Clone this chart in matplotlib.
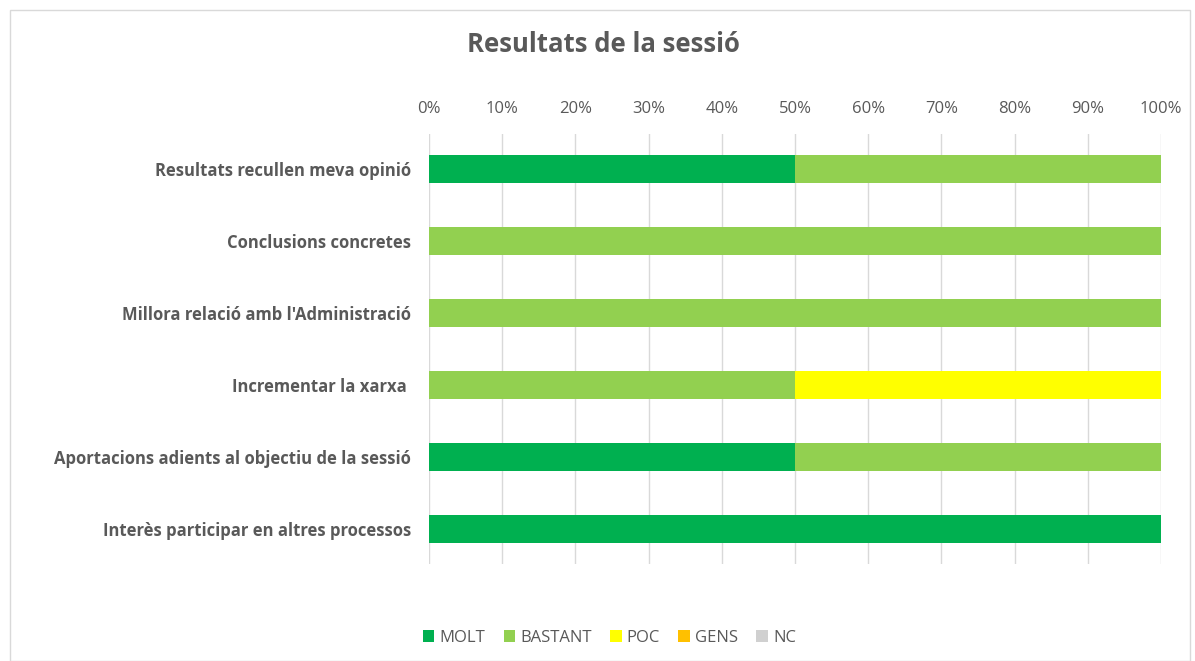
import matplotlib.pyplot as plt
from matplotlib.patches import Rectangle
from matplotlib.ticker import PercentFormatter

categories = [
    "Resultats recullen meva opinió",
    "Conclusions concretes",
    "Millora relació amb l'Administració",
    "Incrementar la xarxa ",
    "Aportacions adients al objectiu de la sessió",
    "Interès participar en altres processos",
]
series_names = ["MOLT", "BASTANT", "POC", "GENS", "NC"]
molt = [50, 0, 0, 0, 50, 100]
bastant = [50, 100, 100, 50, 50, 0]
poc = [0, 0, 0, 50, 0, 0]
gens = [0, 0, 0, 0, 0, 0]
nc = [0, 0, 0, 0, 0, 0]
colors = ["#00B050", "#92D050", "#FFFF00", "#FFC000", "#D0D0D0"]

text_color = "#595959"
plt.rcParams['font.family'] = ['Open Sans', 'DejaVu Sans']

fig = plt.figure(figsize=(11.95, 6.61), dpi=100)
ax = fig.add_axes([0.359, 0.146, 0.6126, 0.652])

# light frame around the chart area
fig.patches.append(Rectangle((0.008, 0.0), 0.988, 0.985, transform=fig.transFigure,
                             fill=False, edgecolor="#D9D9D9", linewidth=1))

ypos = list(range(len(categories)))
left = [0] * len(categories)
for name, vals, col in zip(series_names, [molt, bastant, poc, gens, nc], colors):
    ax.barh(ypos, vals, left=left, height=0.39, color=col, label=name, zorder=3)
    left = [a + b for a, b in zip(left, vals)]

ax.set_xlim(0, 100)
ax.set_ylim(len(categories) - 0.5, -0.5)
ax.set_xticks(range(0, 101, 10))
ax.xaxis.set_major_formatter(PercentFormatter(decimals=0))
ax.xaxis.tick_top()
ax.tick_params(axis='x', length=0, pad=12, labelsize=12, labelcolor=text_color)
ax.set_yticks(ypos)
ax.set_yticklabels(categories, fontsize=12, fontweight='bold', color=text_color)
ax.tick_params(axis='y', length=0, pad=13)
ax.grid(axis='x', color="#D9D9D9", linewidth=1, zorder=0)
for s in ax.spines.values():
    s.set_visible(False)

fig.text(0.505, 0.932, "Resultats de la sessió", ha='center', va='center',
         fontsize=18.5, fontweight='bold', color=text_color)

fig.legend(loc='center', bbox_to_anchor=(0.51, 0.035), ncol=5, frameon=False,
           fontsize=12, labelcolor=text_color, handlelength=0.7, handleheight=0.7,
           handletextpad=0.3, columnspacing=1.1)

fig.savefig("out.png", dpi=100)
